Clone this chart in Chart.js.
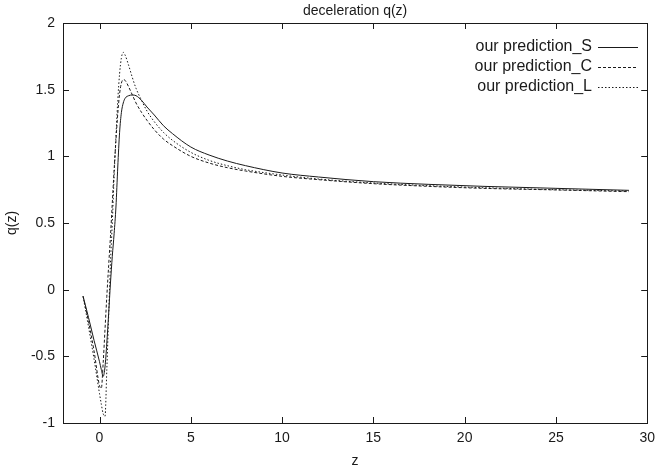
<!DOCTYPE html>
<html>
<head>
<meta charset="utf-8">
<script src="https://cdn.jsdelivr.net/npm/chart.js@4"></script>
<style>
  html, body { margin: 0; padding: 0; background: #fff; }
  #wrap { width: 662px; height: 473px; }
</style>
</head>
<body>
<div id="wrap"><canvas id="qChart" width="662" height="473"></canvas></div>
<script>
// redshift grid and read-off values for each curve
var zValues = [-0.9, -0.6, -0.3, 0, 0.1, 0.2, 0.3, 0.4, 0.5, 0.6, 0.7, 0.8, 0.9, 1.0, 1.1, 1.2, 1.3, 1.4, 1.6, 1.8,
  2.0, 2.3, 2.6, 3, 3.5, 4, 5, 6, 7, 8, 10, 12, 15, 18, 21, 25, 29];
var qS = [-0.05, -0.21, -0.38, -0.54, -0.60, -0.65, -0.58, -0.40, -0.18, 0.05, 0.25, 0.42, 0.62, 0.92, 1.18, 1.33, 1.40, 1.435, 1.455, 1.46,
  1.455, 1.42, 1.37, 1.31, 1.23, 1.17, 1.07, 1.01, 0.965, 0.93, 0.875, 0.845, 0.81, 0.79, 0.775, 0.76, 0.745];
var qC = [-0.05, -0.24, -0.46, -0.72, -0.74, -0.55, -0.3, -0.05, 0.18, 0.4, 0.65, 0.9, 1.12, 1.32, 1.47, 1.55, 1.575, 1.57, 1.52, 1.46,
  1.40, 1.33, 1.27, 1.2, 1.13, 1.08, 1.0, 0.95, 0.915, 0.89, 0.85, 0.825, 0.795, 0.775, 0.76, 0.748, 0.735];
var qL = [-0.05, -0.28, -0.52, -0.78, -0.86, -0.93, -0.95, -0.6, -0.2, 0.2, 0.5, 0.85, 1.15, 1.42, 1.62, 1.74, 1.78, 1.76, 1.68, 1.59,
  1.51, 1.42, 1.34, 1.26, 1.18, 1.12, 1.03, 0.97, 0.93, 0.9, 0.86, 0.83, 0.80, 0.78, 0.765, 0.75, 0.74];
var seriesNames = ['our prediction_S', 'our prediction_C', 'our prediction_L'];
var xTicks = [0, 5, 10, 15, 20, 25, 30];
var yTicks = [-1, -0.5, 0, 0.5, 1, 1.5, 2];

var FONT = 'Liberation Sans, Arial, sans-serif';
var INK = '#1a1a1a';

function toPoints(ys) {
  var pts = [];
  for (var i = 0; i < zValues.length; i++) {
    pts.push({ x: zValues[i], y: ys[i] });
  }
  return pts;
}

function makeDataset(label, ys, dash) {
  return {
    label: label,
    data: toPoints(ys),
    borderColor: INK,
    borderWidth: 1,
    borderDash: dash,
    pointRadius: 0,
    fill: false,
    cubicInterpolationMode: 'monotone'
  };
}

function plainLabel(value) {
  return String(value);
}

// gnuplot style frame, inward ticks on all four sides, title and key
var framePlugin = {
  id: 'frame',
  afterDatasetsDraw: function (chart) {
    var ctx = chart.ctx;
    var a = chart.chartArea;
    var xs = chart.scales.x, ys = chart.scales.y;
    ctx.save();
    ctx.strokeStyle = INK;
    ctx.lineWidth = 1;
    ctx.setLineDash([]);
    ctx.strokeRect(Math.round(a.left) + 0.5, Math.round(a.top) + 0.5,
      Math.round(a.right - a.left), Math.round(a.bottom - a.top));
    ctx.beginPath();
    xTicks.forEach(function (v) {
      var px = Math.round(xs.getPixelForValue(v)) + 0.5;
      ctx.moveTo(px, a.bottom); ctx.lineTo(px, a.bottom - 6);
      ctx.moveTo(px, a.top); ctx.lineTo(px, a.top + 6);
    });
    yTicks.forEach(function (v) {
      var py = Math.round(ys.getPixelForValue(v)) + 0.5;
      ctx.moveTo(a.left, py); ctx.lineTo(a.left + 6, py);
      ctx.moveTo(a.right, py); ctx.lineTo(a.right - 6, py);
    });
    ctx.stroke();

    // title
    ctx.fillStyle = INK;
    ctx.font = '14px ' + FONT;
    ctx.textAlign = 'center';
    ctx.textBaseline = 'middle';
    ctx.fillText('deceleration q(z)', (a.left + a.right) / 2, 11);

    // key
    ctx.font = '16px ' + FONT;
    ctx.textAlign = 'right';
    chart.data.datasets.forEach(function (ds, i) {
      var y = 47 + i * 20;
      ctx.fillText(ds.label, 592, y);
      ctx.beginPath();
      ctx.setLineDash(ds.borderDash);
      ctx.moveTo(598, y + 0.5);
      ctx.lineTo(638, y + 0.5);
      ctx.stroke();
    });
    ctx.restore();
  }
};

var chartctx = document.getElementById('qChart').getContext('2d');

var qChart = new Chart(chartctx, {
  type: 'line',
  data: {
    datasets: [
      makeDataset(seriesNames[0], qS, []),
      makeDataset(seriesNames[1], qC, [3, 2]),
      makeDataset(seriesNames[2], qL, [1.5, 2])
    ]
  },
  options: {
    responsive: false,
    animation: false,
    devicePixelRatio: 1,
    layout: {
      autoPadding: false,
      padding: { top: 23, right: 9, left: 0, bottom: 0 }
    },
    plugins: {
      legend: { display: false },
      tooltip: { enabled: false },
      title: { display: false }
    },
    scales: {
      x: {
        type: 'linear',
        min: -2,
        max: 30,
        afterBuildTicks: function (scale) {
          scale.ticks = xTicks.map(function (v) { return { value: v }; });
        },
        afterFit: function (scale) { scale.height = 50; },
        grid: { display: false, drawTicks: false },
        border: { display: false },
        ticks: { color: INK, padding: 7, maxRotation: 0, callback: plainLabel, font: { family: FONT, size: 14 } },
        title: { display: true, text: 'z', color: INK, padding: { top: 0, bottom: 3 }, font: { family: FONT, size: 14 } }
      },
      y: {
        min: -1,
        max: 2,
        afterBuildTicks: function (scale) {
          scale.ticks = yTicks.map(function (v) { return { value: v }; });
        },
        afterFit: function (scale) { scale.width = 63; },
        grid: { display: false, drawTicks: false },
        border: { display: false },
        ticks: { color: INK, padding: 8, callback: plainLabel, font: { family: FONT, size: 14 } },
        title: { display: true, text: 'q(z)', color: INK, padding: { top: 4, bottom: 0 }, font: { family: FONT, size: 14 } }
      }
    }
  },
  plugins: [framePlugin]
});
</script>
</body>
</html>
